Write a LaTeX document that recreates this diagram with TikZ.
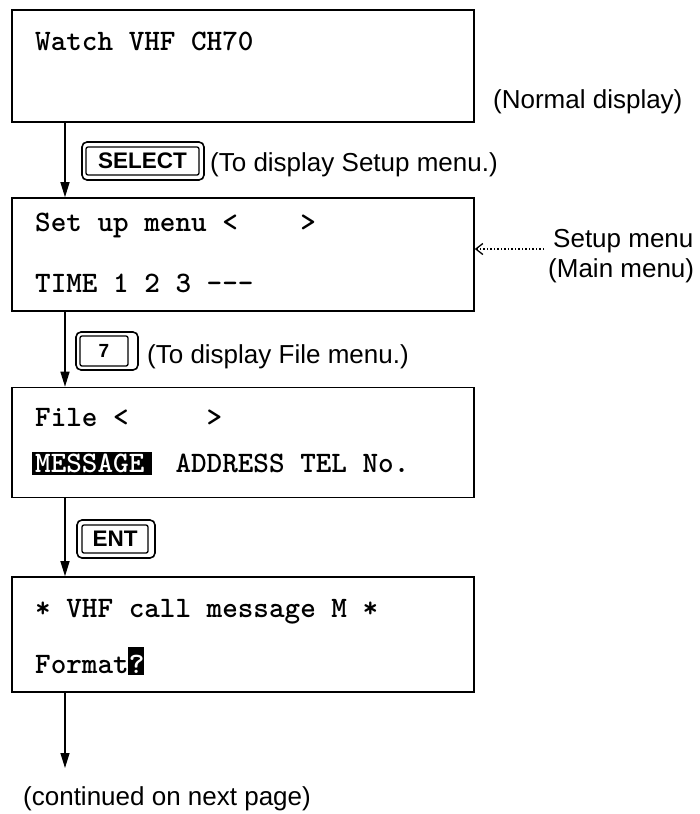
\documentclass[tikz,border=0pt]{standalone}
\usepackage{fontspec}
\setsansfont{Liberation Sans}
\newfontfamily\lcdfont{lmmonolt10-bold.otf}
\usetikzlibrary{arrows.meta}
% highlighted (inverse) text: text, left pad, right pad, height, depth
\newcommand\hlbox[5]{\setbox0\hbox{#1}\rlap{\kern-#2\rule[-#5]{\dimexpr\wd0+#2+#3\relax}{\dimexpr#4+#5\relax}}\textcolor{white}{#1}}
\tikzset{
  lcd/.style={font=\lcdfont\fontsize{29.7}{30}\selectfont, anchor=base west, inner sep=0pt},
  lcdbox/.style={draw, line width=1.6pt, minimum width=462pt, inner sep=0pt},
  lab/.style={font=\sffamily\fontsize{26}{28}\selectfont, anchor=base west, inner sep=0pt},
  keyout/.style={draw, line width=1.6pt, rounded corners=5pt, inner sep=0pt, minimum height=38pt},
  keyin/.style={draw, line width=1.3pt, rounded corners=2pt, inner sep=0pt,
    font=\sffamily\bfseries\fontsize{22.5}{24}\selectfont},
  arr/.style={line width=1.3pt, -{Triangle[length=15pt,width=9pt]}},
  dotarr/.style={line width=1.3pt, dash pattern=on 1.5pt off 2pt, -{Straight Barb[length=7pt,width=11pt]}}
}
\begin{document}
\begin{tikzpicture}[x=1pt,y=-1pt]
\useasboundingbox (0,0) rectangle (700,814);
% display boxes
\node[lcdbox, minimum height=112pt] (b1) at (243,66) {};
\node[lcdbox, minimum height=113pt] (b2) at (243,254.5) {};
\node[lcdbox, minimum height=110pt] (b3) at (243,442.5) {};
\node[lcdbox, minimum height=115pt] (b4) at (243,634.5) {};
% display texts
\node[lcd] (t1) at (35,50) {Watch VHF CH70};
\node[lcd] (t2a) at (35,231) {Set up menu <\ \ \ \ >};
\node[lcd] (t2b) at (35,292) {TIME 1 2 3 -\kern0pt-\kern0pt-};
\node[lcd] (t3a) at (35,426) {File <\ \ \ \ \ >};
\node[lcd] (t3b) at (35,472) {\hlbox{MESSAGE}{3pt}{8pt}{20pt}{3pt}\ \ ADDRESS TEL No.};
\node[lcd] (t4a) at (35,617) {* VHF call message M *};
\node[lcd] (t4b) at (35,673) {Format\hlbox{?}{1pt}{0pt}{26pt}{2pt}};
% side labels
\node[lab] (nd) at (493,108) {(Normal display)};
\node[lab] (sm) at (553,247) {Setup menu};
\node[lab] (mm) at (548,277) {(Main menu)};
\node[lab] (cont) at (23,805) {(continued on next page)};
% keys
\node[keyout, minimum width=122pt] (kso) at (143,161) {};
\node[keyin, minimum width=113pt, minimum height=28pt] (ks) at (142.5,161) {SELECT};
\node[lab] (l1) at (210,171) {(To display Setup menu.)};
\node[keyout, minimum width=62pt] (k7o) at (107,351) {};
\node[keyin, minimum width=48pt, minimum height=30pt, font=\sffamily\bfseries\fontsize{19}{20}\selectfont] (k7) at (104,351) {7};
\node[lab] (l2) at (147,363) {(To display File menu.)};
\node[keyout, minimum width=78pt] (keo) at (116,539) {};
\node[keyin, minimum width=66pt, minimum height=28pt] (ke) at (115,539) {ENT};
% flow arrows
\coordinate (ax) at (65,0);
\coordinate (endpt) at (65,768);
\draw[arr] (b1.south -| ax) -- (b2.north -| ax);
\draw[arr] (b2.south -| ax) -- (b3.north -| ax);
\draw[arr] (b3.south -| ax) -- (b4.north -| ax);
\draw[arr] (b4.south -| ax) -- (endpt);
% pointer to setup menu
\coordinate (ds) at (544,249);
\draw[dotarr] (ds) -- (ds -| b2.east);
\end{tikzpicture}
\end{document}
